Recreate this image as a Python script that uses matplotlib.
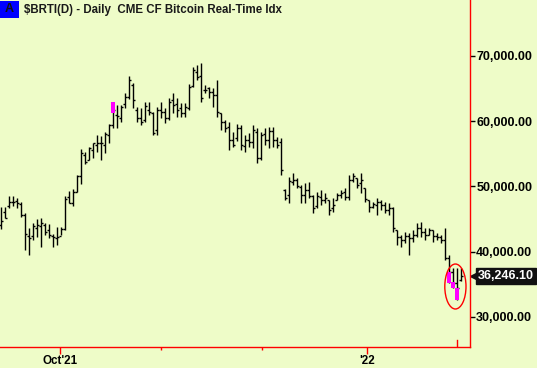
import numpy as np
import matplotlib
matplotlib.use("Agg")
import matplotlib.pyplot as plt
from matplotlib.patches import Ellipse, Rectangle
from matplotlib.transforms import blended_transform_factory, offset_copy

# daily OHLC, in thousands of USD
highs = [46.84, 46.84, 48.52, 48.52, 48.22, 47.60, 45.92, 43.62, 44.38, 45.00,
         45.15, 44.38, 44.23, 42.70, 43.77, 43.77, 48.52, 49.29, 49.59, 51.74,
         55.73, 55.27, 56.04, 56.65, 57.88, 57.72, 58.34, 59.57, 62.94, 62.48,
         62.48, 64.32, 66.93, 65.86, 62.18, 62.02, 62.94, 62.94, 61.41, 62.18,
         62.94, 62.02, 63.56, 64.32, 63.56, 62.79, 62.79, 65.70, 68.31, 68.62,
         68.93, 65.55, 65.24, 65.09, 66.32, 61.26, 60.18, 59.88, 58.34, 59.57,
         59.42, 57.88, 58.18, 59.42, 58.95, 58.34, 58.95, 59.11, 59.11, 57.57,
         57.42, 49.59, 51.44, 52.05, 51.28, 50.21, 50.52, 50.67, 48.68, 49.14,
         49.44, 48.98, 47.91, 48.22, 48.98, 49.44, 49.75, 51.74, 52.05, 51.28,
         52.05, 49.75, 47.91, 47.60, 48.22, 47.91, 47.60, 47.45, 46.84, 43.31,
         42.54, 43.00, 42.85, 43.31, 44.38, 44.54, 43.62, 43.62, 43.31, 42.85,
         42.54, 43.62, 39.48, 37.48, 37.48, 37.48]
lows = [43.46, 45.15, 46.68, 46.99, 46.68, 45.30, 40.25, 39.48, 41.78, 42.24,
        40.70, 42.54, 42.08, 40.70, 41.01, 42.54, 43.31, 47.45, 46.99, 49.14,
        50.36, 53.43, 54.04, 54.35, 55.27, 54.04, 55.12, 56.65, 58.95, 58.95,
        59.88, 62.02, 63.40, 62.02, 59.88, 59.42, 59.88, 60.95, 57.88, 57.88,
        60.49, 59.72, 60.18, 61.26, 60.64, 60.64, 60.64, 61.72, 65.24, 66.32,
        62.94, 64.32, 63.56, 62.18, 60.64, 58.65, 58.34, 55.58, 56.04, 56.96,
        55.58, 55.27, 56.04, 55.89, 53.59, 54.04, 56.35, 55.89, 56.04, 55.89,
        51.74, 47.91, 47.45, 50.21, 49.75, 47.45, 47.45, 48.22, 45.92, 46.68,
        47.14, 47.45, 45.61, 46.07, 47.91, 48.22, 47.91, 47.91, 50.67, 49.75,
        48.98, 47.60, 46.07, 46.68, 45.61, 46.38, 45.92, 45.61, 43.00, 41.01,
        40.70, 41.32, 39.48, 41.47, 42.24, 42.24, 41.78, 42.54, 41.47, 41.78,
        41.32, 38.71, 35.18, 34.41, 32.58, 35.49]
opens = [44.08, 46.07, 46.99, 47.60, 47.76, 47.30, 45.61, 42.39, 42.39, 43.62,
         43.92, 44.08, 43.31, 42.39, 42.08, 42.39, 43.46, 48.37, 47.45, 49.14,
         51.59, 54.81, 54.04, 55.58, 56.35, 56.65, 56.35, 57.88, 59.42, 60.95,
         60.49, 62.64, 63.71, 65.55, 61.72, 60.49, 60.18, 61.72, 61.26, 58.65,
         61.72, 61.41, 60.49, 63.25, 62.64, 62.02, 61.26, 62.02, 65.40, 67.55,
         66.93, 64.78, 65.09, 64.48, 64.02, 61.26, 59.88, 59.11, 57.11, 57.42,
         58.95, 56.19, 57.11, 56.80, 58.34, 54.35, 58.03, 57.11, 58.49, 57.11,
         56.80, 49.44, 48.68, 50.67, 50.98, 49.90, 48.68, 49.44, 48.52, 46.99,
         48.37, 47.91, 47.91, 46.68, 47.91, 48.68, 49.14, 48.37, 50.98, 51.28,
         50.52, 49.75, 47.91, 46.84, 47.14, 47.60, 47.14, 46.38, 46.68, 43.31,
         42.24, 41.78, 42.39, 42.08, 42.54, 43.62, 43.00, 42.54, 43.31, 42.39,
         42.24, 41.78, 39.02, 36.87, 35.18, 35.64]
closes = [44.69, 45.15, 47.60, 47.60, 47.45, 45.61, 42.70, 42.08, 43.92, 44.08,
          44.38, 43.00, 42.54, 42.24, 42.24, 43.46, 48.06, 47.45, 49.14, 51.59,
          55.12, 53.74, 55.89, 56.65, 56.65, 56.65, 58.03, 59.42, 61.72, 60.80,
          62.18, 63.71, 66.32, 63.25, 60.49, 59.88, 62.33, 61.41, 58.18, 61.72,
          61.41, 60.49, 62.94, 62.48, 61.72, 61.26, 62.18, 65.24, 67.85, 66.78,
          63.56, 64.78, 64.48, 64.02, 61.41, 59.88, 58.95, 57.11, 56.35, 58.95,
          56.35, 57.11, 56.80, 58.65, 54.35, 57.88, 57.11, 58.49, 57.11, 56.35,
          52.51, 48.22, 50.82, 50.98, 50.06, 48.68, 49.44, 48.52, 46.68, 48.52,
          47.91, 48.22, 46.38, 47.14, 48.68, 48.98, 48.37, 50.98, 51.59, 50.21,
          50.98, 48.06, 46.84, 47.30, 47.60, 47.14, 46.38, 46.68, 43.62, 42.24,
          41.78, 42.39, 42.08, 42.54, 43.62, 43.00, 42.54, 43.31, 42.39, 42.24,
          41.78, 39.02, 36.87, 35.18, 34.41, 36.24610]

# magenta paint-bar segments (bar index, top, bottom)
pink_idx = [28, 112, 113, 114]
pink_top = [62.94, 36.87, 35.33, 34.41]
pink_bot = [61.26, 35.18, 34.41, 32.58]

last_price = 36246.10
y_ticks = [30000, 40000, 50000, 60000, 70000]
month_pos = [14.8, 91.6]
month_labels = ["Oct'21", "'22"]
minor_month_pos = [40.1, 65.2]
title = "$BRTI(D) - Daily  CME CF Bitcoin Real-Time Idx"

bg = "#EEFCC8"
plt.rcParams["font.family"] = ["Liberation Sans", "DejaVu Sans"]
plt.rcParams["font.weight"] = "bold"

highs = np.array(highs) * 1000
lows = np.array(lows) * 1000
opens = np.array(opens) * 1000
closes = np.array(closes) * 1000
idx = np.arange(len(highs))

fig = plt.figure(figsize=(5.37, 3.68), dpi=100)
fig.patch.set_facecolor(bg)
ax = fig.add_axes([0, 21 / 368, 470 / 537, 347 / 368])
ax.set_facecolor(bg)

ax.vlines(idx, lows, highs, color="black", lw=1.0)
ax.hlines(opens, idx - 0.55, idx, color="black", lw=1.0)
ax.hlines(closes, idx, idx + 0.55, color="black", lw=1.0)

for i, t, b in zip(pink_idx, pink_top, pink_bot):
    ax.bar(i, (t - b) * 1000, bottom=b * 1000, width=0.8, color="#FF00FF", zorder=3)

ax.add_patch(Ellipse((113.6, 34640), 5.3, 6900, fill=False, ec="red", lw=1.0, zorder=4))

ax.set_xlim(-0.25, 117.25)
ax.set_ylim(25360, 78590)

for s in ["top", "left"]:
    ax.spines[s].set_visible(False)
for s in ["right", "bottom"]:
    ax.spines[s].set_color("red")
    ax.spines[s].set_linewidth(1.0)

ax.yaxis.tick_right()
ax.set_yticks(y_ticks)
ax.set_yticklabels([f"{v:,.2f}" for v in y_ticks])
ax.tick_params(axis="y", color="black", labelcolor="black", length=3.5, width=1,
               pad=1, labelsize=9)

ax.set_xticks(month_pos)
ax.set_xticklabels(month_labels)
ax.set_xticks(minor_month_pos, minor=True)
ax.tick_params(axis="x", which="major", color="red", labelcolor="black",
               length=5, width=1, pad=0.5, labelsize=8.4)
ax.tick_params(axis="x", which="minor", color="red", length=2.5, width=1)

# short red marker on the date axis
ax.axvline(114, ymin=0, ymax=7 / 347, color="red", lw=1.0)

# last price tag
tr = blended_transform_factory(ax.transAxes, ax.transData)
ax.text(1.0, last_price, f"{last_price:,.2f}",
        transform=offset_copy(tr, fig=fig, x=5.5, y=0, units="points"),
        ha="left", va="center", color="white", fontsize=9, fontweight="bold",
        bbox=dict(boxstyle="square,pad=0.15", fc="#111111", ec="#111111"),
        clip_on=False)
ax.plot([1.0], [last_price], marker="<", ms=6, color="#111111",
        transform=offset_copy(tr, fig=fig, x=3, y=0, units="points"), clip_on=False)

# header
fig.patches.append(Rectangle((0, 1 - 18 / 368), 19 / 537, 17 / 368,
                             transform=fig.transFigure, fc="#0000FF", ec="none"))
fig.text(9.5 / 537, 1 - 9.5 / 368, "A", ha="center", va="center",
         fontsize=9, fontweight="bold", color="#111111")
fig.text(24 / 537, 1 - 10 / 368, title, ha="left", va="center",
         fontsize=8.3, fontweight="bold", color="#1a1a1a")

fig.savefig("out.png", dpi=100, facecolor=bg)
